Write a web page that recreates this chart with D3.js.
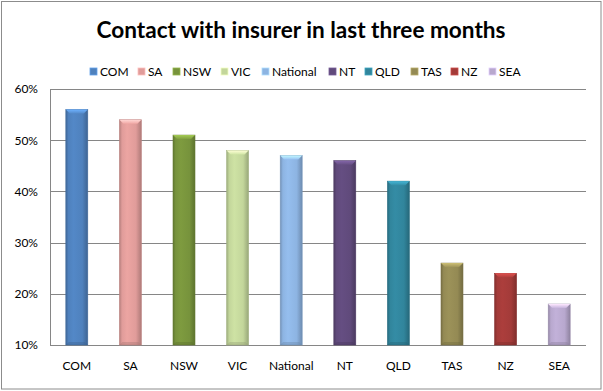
<!DOCTYPE html>
<html><head><meta charset="utf-8">
<script src="https://cdn.jsdelivr.net/npm/d3@7"></script>
<style>body{margin:0;background:#fff}svg{display:block;font-family:Lato,"Open Sans",sans-serif}</style>
</head><body><svg id="c" width="603" height="391"></svg>
<script>
const categories = ["COM","SA","NSW","VIC","National","NT","QLD","TAS","NZ","SEA"];
const values = [0.56,0.54,0.51,0.48,0.47,0.46,0.42,0.26,0.24,0.18];
const colors = ["#4F81BD","#E09C9A","#77933C","#C3D69B","#8DB4E2","#604A7B","#31859C","#948A54","#A33B39","#B8A8CE"];
const yTicks = [0.1,0.2,0.3,0.4,0.5,0.6];
const legendX = [90,138,173,221,262,329,365,411,451,489];
const title = "Contact with insurer in last three months";

const svg = d3.select("#c");
svg.append("rect").attr("x",1.5).attr("y",1.5).attr("width",599.5).attr("height",387.5)
  .attr("fill","#fff").attr("stroke","#8c8c8c").attr("stroke-width",1);

const m = {l:50,r:586,t:89,b:345};
const x = d3.scaleBand().domain(categories).range([m.l,m.r]).paddingInner(0.59).paddingOuter(0.295);
const y = d3.scaleLinear().domain([0.1,0.6]).range([m.b,m.t]);

const defs = svg.append("defs");
categories.forEach((c,i)=>{
  const base = d3.color(colors[i]);
  const g = defs.append("linearGradient").attr("id","g"+i).attr("x1","0").attr("x2","1").attr("y1","0").attr("y2","0");
  [[0,base.darker(0.6)],[0.12,base],[0.35,base.brighter(0.15)],[0.75,base],[1,base.darker(0.7)]].forEach(([o,col])=>
    g.append("stop").attr("offset",o).attr("stop-color",col.formatHex()));
  const gc = defs.append("linearGradient").attr("id","gc"+i).attr("x1","0").attr("x2","0").attr("y1","0").attr("y2","1");
  gc.append("stop").attr("offset",0).attr("stop-color",base.brighter(0.9).formatHex());
  gc.append("stop").attr("offset",1).attr("stop-color",base.brighter(0.2).formatHex());
});

svg.append("g").selectAll("line").data(yTicks).join("line")
  .attr("x1",m.l).attr("x2",m.r).attr("y1",d=>Math.round(y(d))+0.5).attr("y2",d=>Math.round(y(d))+0.5)
  .attr("stroke","#868686").attr("stroke-width",1);
svg.append("line").attr("x1",m.l+0.5).attr("x2",m.l+0.5).attr("y1",m.t).attr("y2",m.b+1).attr("stroke","#868686");

const yAxis = d3.axisLeft(y).tickValues(yTicks).tickFormat(d3.format(".0%")).tickSize(0).tickPadding(12);
const ya = svg.append("g").attr("transform",`translate(${m.l},0)`).call(yAxis);
ya.select(".domain").remove();
ya.selectAll("text").attr("font-size",12).attr("fill","#000").attr("font-family","Lato,'Open Sans',sans-serif");

const xAxis = d3.axisBottom(x).tickSize(0).tickPadding(16);
const xa = svg.append("g").attr("transform",`translate(0,${m.b})`).call(xAxis);
xa.select(".domain").remove();
xa.selectAll("text").attr("font-size",12).attr("fill","#000").attr("font-family","Lato,'Open Sans',sans-serif");

const bars = svg.append("g").selectAll("g").data(categories).join("g");
bars.append("rect")
  .attr("x",d=>x(d)).attr("y",(d,i)=>y(values[i])).attr("width",x.bandwidth())
  .attr("height",(d,i)=>m.b - y(values[i]))
  .attr("fill",(d,i)=>`url(#g${i})`)
  .attr("stroke",(d,i)=>d3.color(colors[i]).darker(0.5).formatHex()).attr("stroke-width",0.6);
bars.append("path")
  .attr("d",(d,i)=>{const x0=x(d), w=x.bandwidth(), t=y(values[i]);
    return `M${x0},${t}L${x0+w},${t}L${x0+w-4},${t+4}L${x0+4},${t+4}Z`;})
  .attr("fill",(d,i)=>`url(#gc${i})`);
bars.append("path")
  .attr("d",(d,i)=>{const x0=x(d), w=x.bandwidth(), b=m.b;
    return `M${x0},${b}L${x0+w},${b}L${x0+w-3},${b-3}L${x0+3},${b-3}Z`;})
  .attr("fill",(d,i)=>d3.color(colors[i]).darker(0.8).formatHex()).attr("opacity",0.4);

svg.append("text").attr("x",301).attr("y",38).attr("text-anchor","middle")
  .attr("font-size",22).attr("font-weight","bold").attr("fill","#000")
  .attr("textLength",409).attr("lengthAdjust","spacingAndGlyphs").text(title);

const lg = svg.append("g").selectAll("g").data(categories).join("g")
  .attr("transform",(d,i)=>`translate(${legendX[i]},71.5)`);
lg.append("rect").attr("x",0).attr("y",-3.5).attr("width",7).attr("height",7)
  .attr("fill",(d,i)=>colors[i]).attr("stroke",(d,i)=>d3.color(colors[i]).brighter(0.6).formatHex()).attr("stroke-width",0.8);
lg.append("text").attr("x",10).attr("y",4.3).attr("font-size",12).attr("fill","#000").text(d=>d);
</script></body></html>
